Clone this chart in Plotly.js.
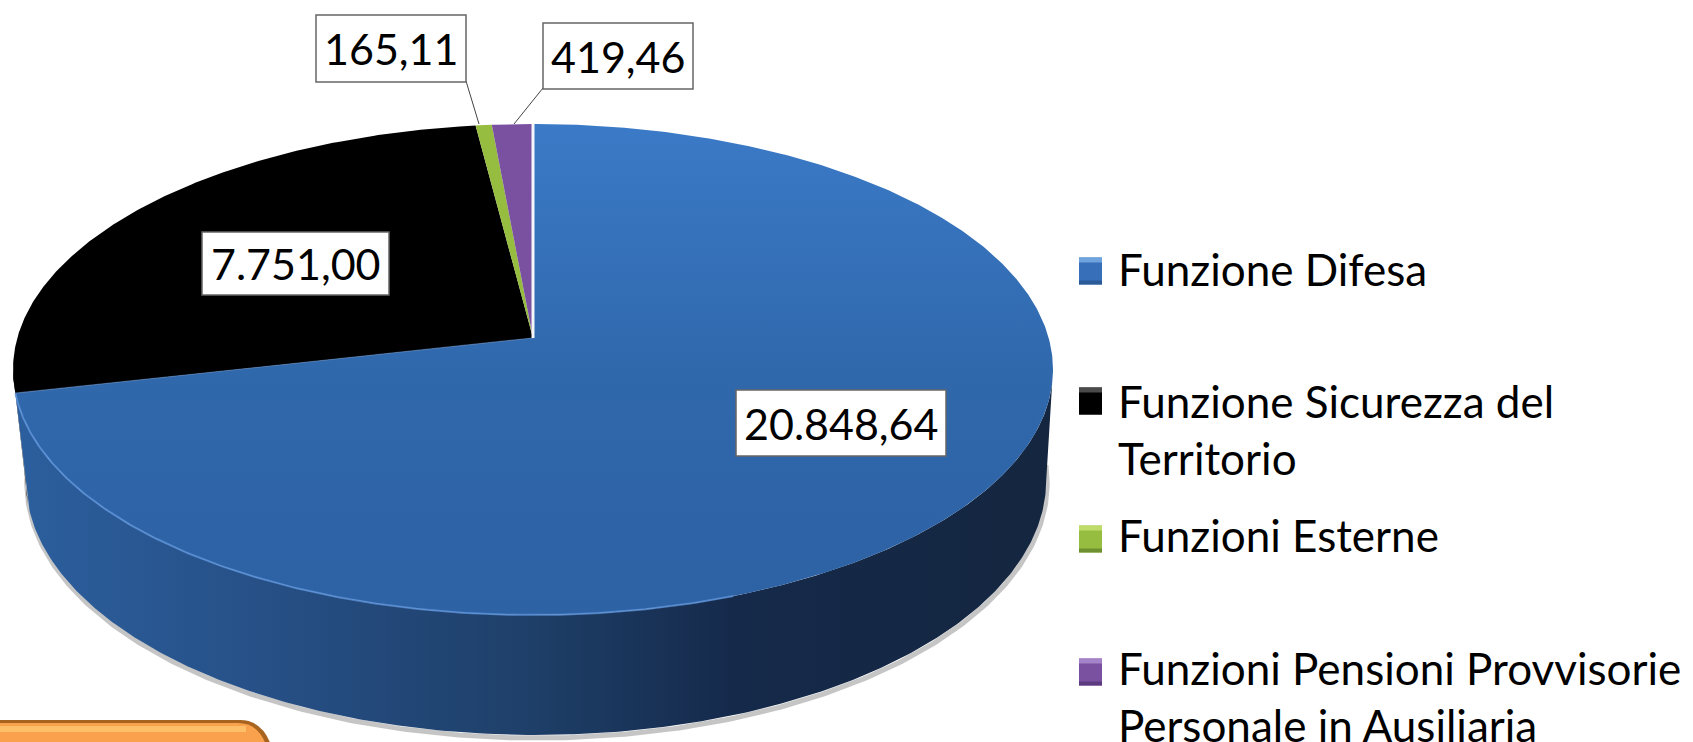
<!DOCTYPE html>
<html><head><meta charset="utf-8">
<script src="https://cdn.plot.ly/plotly-3.0.1.min.js"></script>
<style>html,body{margin:0;padding:0;background:#fff}#c{width:1693px;height:742px}</style>
</head><body><div id="c"></div>
<script>
const categories = ['Funzione Difesa','Funzione Sicurezza del<br>Territorio','Funzioni Esterne','Funzioni Pensioni Provvisorie<br>Personale in Ausiliaria'];
const values = [20848.64, 7751.00, 165.11, 419.46];
const sliceColors = ['#376fb8','#000000','#96bd3f','#7a50a0'];
const swatchLight = ['#6ea3de','#4a4a4a','#bfdc6a','#a583c8'];
const swatchDark = ['#2a5a98','#000000','#6f9030','#5c3a80'];

const total = values.reduce((a,b)=>a+b,0);
const fmt = v => v.toLocaleString('de-DE',{minimumFractionDigits:2,maximumFractionDigits:2});

// perspective projection of the pie disc
const cx=533, c=0.1283, A=-198.1, B=338, R=515.7;
const topRing = t => { const r=t*Math.PI/180,u=Math.sin(r),v=Math.cos(r),d=1+c*v; return [cx+R*u/d,(A*v+B)/d]; };
const cx2=536, R2=506;
const botRing = t => { const r=t*Math.PI/180,u=Math.sin(r),v=Math.cos(r),d=1+c*v; return [cx2+R2*u/d,((A*v+B)/d)*1.0387+96.2]; };
const arc = (f,a,b) => { const n=Math.max(2,Math.ceil(Math.abs(b-a)*2)),o=[]; for(let i=0;i<=n;i++) o.push(f(a+(b-a)*i/n)); return o; };
const xs = p=>p.map(q=>q[0]), ys = p=>p.map(q=>q[1]);
const noHover = {hoverinfo:'skip',showlegend:false};

let angle=0; const spans=values.map(v=>{const s=[angle,angle+v/total*360];angle=s[1];return s;});
const L=262.6, Rt=97.4;
const traces=[];

// soft shadow under the rim
const shadow=arc(botRing,Rt-4,L+2);
traces.push({x:xs(shadow).map(x=>x+1),y:ys(shadow).map(y=>y+3),mode:'lines',line:{color:'rgba(90,90,90,0.35)',width:5},...noHover});

// rim: black sliver then blue front
const blkRim=[...arc(topRing,spans[0][1],L),...arc(botRing,L,spans[0][1])];
traces.push({x:xs(blkRim),y:ys(blkRim),mode:'lines',fill:'toself',fillcolor:'#000',line:{width:0,color:'#000'},...noHover});
const bluRim=[...arc(topRing,Rt,spans[0][1]),...arc(botRing,spans[0][1],Rt)];
traces.push({x:xs(bluRim),y:ys(bluRim),mode:'lines',fill:'toself',line:{width:0,color:'rgba(0,0,0,0)'},
  fillgradient:{type:'horizontal',colorscale:[[0,'#2c5f9e'],[0.25,'#264f85'],[0.5,'#1e3f68'],[0.7,'#15294a'],[1,'#14263f']]},...noHover});

// top faces
spans.forEach((s,i)=>{
  const p=[[cx,B],...arc(topRing,s[0],s[1]),[cx,B]];
  const t={x:xs(p),y:ys(p),mode:'lines',fill:'toself',fillcolor:sliceColors[i],line:{width:0,color:'rgba(0,0,0,0)'},name:categories[i],...noHover};
  if(i===0) t.fillgradient={type:'vertical',colorscale:[[0,'#2d62a4'],[0.5,'#3068ac'],[1,'#3b7ac7']]};
  traces.push(t);
});
// highlight along the front edge and separator of the first slice
const hl=arc(topRing,160,spans[0][1]);
traces.push({x:xs(hl),y:ys(hl),mode:'lines',line:{color:'rgba(96,150,220,0.75)',width:2},...noHover});
const sep=[[cx,B],topRing(spans[0][1])];
traces.push({x:xs(sep),y:ys(sep),mode:'lines',line:{color:'rgba(90,140,205,0.6)',width:1.2},...noHover});
const gap=[[cx,B],topRing(0)];
traces.push({x:xs(gap),y:ys(gap),mode:'lines',line:{color:'#f4f6fa',width:3},...noHover});

// leader lines
[[[466,81],[479,124]],[[543,88],[514,124]]].forEach(l=>traces.push({x:xs(l),y:ys(l),mode:'lines',line:{color:'#444',width:1},...noHover}));

// boxes for the value labels
const boxes=[[736,390,946,456],[202,232,389,295],[316,15,466,82],[543,23,693,89]];
const ann=[]; const shapes=[];
boxes.forEach((b,i)=>{
  shapes.push({type:'rect',layer:'above',xref:'x',yref:'y',x0:b[0],y0:b[1],x1:b[2],y1:b[3],fillcolor:'#fff',line:{color:'#666',width:1.5}});
  ann.push({xref:'x',yref:'y',x:(b[0]+b[2])/2,y:(b[1]+b[3])/2,text:fmt(values[i]),showarrow:false,xanchor:'center',yanchor:'middle',font:{family:'Lato, sans-serif',size:43,color:'#000'}});
});
// legend
const rowY=[271,401,539,672];
const textY=[241,373,507,640];
categories.forEach((n,i)=>{
  const y=rowY[i],x0=1079,x1=1102,h=13.5;
  shapes.push({type:'rect',xref:'x',yref:'y',x0,x1,y0:y-h,y1:y+h,fillcolor:sliceColors[i],line:{width:0}});
  shapes.push({type:'rect',xref:'x',yref:'y',x0,x1,y0:y-h,y1:y-h+5,fillcolor:swatchLight[i],line:{width:0}});
  shapes.push({type:'rect',xref:'x',yref:'y',x0,x1,y0:y+h-4,y1:y+h,fillcolor:swatchDark[i],line:{width:0}});
  ann.push({xref:'x',yref:'y',x:1116,y:textY[i],text:n,showarrow:false,xanchor:'left',yanchor:'top',align:'left',font:{family:'Lato, sans-serif',size:44,color:'#000'}});
});
// orange button, cut off by the lower edge
shapes.push({type:'path',xref:'x',yref:'y',path:'M -5 745 L -5 720 L 240 720 Q 262 720 271 745 Z',fillcolor:'#a8641f',line:{width:0}});
shapes.push({type:'path',xref:'x',yref:'y',path:'M -5 745 L -5 723 L 238 723 Q 258 723 266 745 Z',fillcolor:'#f9a14d',line:{width:0}});
shapes.push({type:'rect',xref:'x',yref:'y',x0:-5,x1:246,y0:726,y1:732,fillcolor:'#ffbe68',line:{width:0}});

Plotly.newPlot('c',traces,{
  width:1693,height:742,margin:{l:0,r:0,t:0,b:0},paper_bgcolor:'#fff',plot_bgcolor:'#fff',showlegend:false,
  xaxis:{range:[0,1693],visible:false,fixedrange:true},
  yaxis:{range:[742,0],visible:false,fixedrange:true},
  shapes,annotations:ann
},{displayModeBar:false,staticPlot:true});
</script></body></html>
